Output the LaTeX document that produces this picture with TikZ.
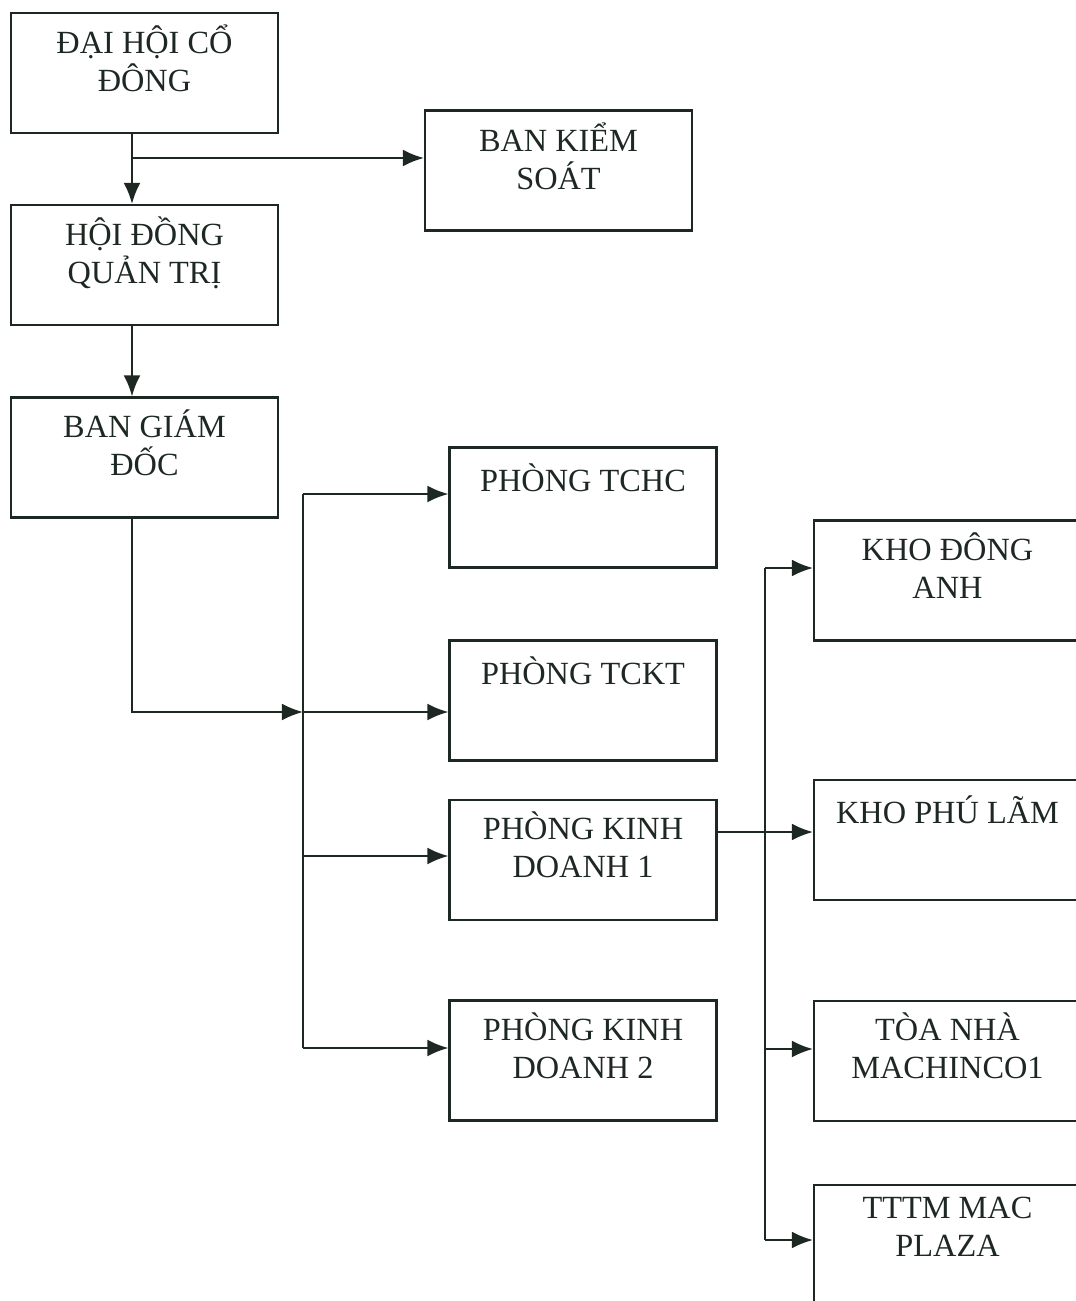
\documentclass[tikz,border=0pt]{standalone}
\usepackage{fontspec}
\setmainfont{Liberation Serif}
\usepackage{tikz}
\usetikzlibrary{arrows.meta,positioning,calc}
\definecolor{ink}{RGB}{30,40,35}

\begin{document}
\begin{tikzpicture}[x=0.1mm,y=-0.1mm,
  box/.style={draw=ink,line width=0.6pt,minimum width=26.7mm,minimum height=12mm,inner sep=0pt},
  lbl/.style={anchor=north,yshift=-3.5pt,inner sep=0pt,align=center,text=ink,
    font=\fontsize{9.2}{10.8}\selectfont,execute at begin node=\rule{0pt}{9pt}},
  arr/.style={draw=ink,line width=0.6pt,-{Latex[length=6pt,width=4.8pt]}},
  conn/.style={draw=ink,line width=0.6pt}]
\useasboundingbox (0,0) rectangle (1076,1301);
\clip (0,0) rectangle (1076,1301);
% left column
\node[box,label={[lbl]north:ĐẠI HỘI CỔ\\ĐÔNG}] (dhcd) at (144.5,73) {};
\node[box,label={[lbl]north:BAN KIỂM\\SOÁT}] (bks) at (558.5,170.5) {};
\node[box,label={[lbl]north:HỘI ĐỒNG\\QUẢN TRỊ}] (hdqt) at (144.5,265) {};
\node[box,label={[lbl]north:BAN GIÁM\\ĐỐC}] (bgd) at (144.5,457.5) {};
% phong ban
\node[box,label={[lbl]north:PHÒNG TCHC}] (tchc) at (583,507.5) {};
\node[box,label={[lbl]north:PHÒNG TCKT}] (tckt) at (583,700.5) {};
\node[box,label={[lbl]north:PHÒNG KINH\\DOANH 1}] (pkd1) at (583,860) {};
\node[box,label={[lbl]north:PHÒNG KINH\\DOANH 2}] (pkd2) at (583,1060.5) {};
% kho, toa nha
\node[box,label={[lbl]north:KHO ĐÔNG\\ANH}] (kda) at (947.5,580.5) {};
\node[box,label={[lbl]north:KHO PHÚ LÃM}] (kpl) at (947.5,840) {};
\node[box,label={[lbl]north:TÒA NHÀ\\MACHINCO1}] (toa) at (947.5,1061) {};
\node[box,label={[lbl]north:TTTM MAC\\PLAZA}] (tttm) at (947.5,1245) {};

\coordinate (j0) at (132,158);
\draw[arr] (dhcd.south -| j0) -- (hdqt.north -| j0);
\draw[arr] (j0) -- (j0 -| bks.west);
\draw[arr] (hdqt.south -| j0) -- (bgd.north -| j0);

\coordinate (t1) at (303,494);
\coordinate (t2) at (303,712);
\coordinate (t3) at (303,856);
\coordinate (t4) at (303,1048);
\draw[arr] (bgd.south -| j0) |- (t2);
\draw[conn] (t1) -- (t4);
\draw[arr] (t1) -- (t1 -| tchc.west);
\draw[arr] (t2) -- (t2 -| tckt.west);
\draw[arr] (t3) -- (t3 -| pkd1.west);
\draw[arr] (t4) -- (t4 -| pkd2.west);

\coordinate (u1) at (765,568);
\coordinate (u2) at (765,832);
\coordinate (u3) at (765,1049);
\coordinate (u4) at (765,1240);
\draw[conn] (u1) -- (u4);
\draw[arr] (u1) -- (u1 -| kda.west);
\draw[arr] (pkd1.east |- u2) -- (u2 -| kpl.west);
\draw[arr] (u3) -- (u3 -| toa.west);
\draw[arr] (u4) -- (u4 -| tttm.west);
\end{tikzpicture}
\end{document}
